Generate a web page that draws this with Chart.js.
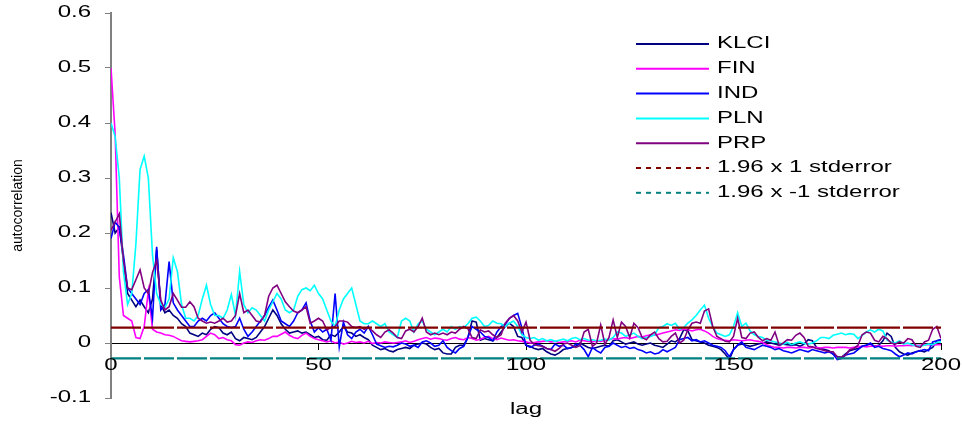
<!DOCTYPE html>
<html>
<head>
<meta charset="utf-8">
<title>Autocorrelation by lag</title>
<script src="https://cdn.jsdelivr.net/npm/chart.js@4.4.1/dist/chart.umd.min.js"></script>
<style>
  html, body { margin: 0; padding: 0; background: #fff; }
  #wrap { width: 962px; height: 427px; position: relative; }
</style>
</head>
<body>
<div id="wrap"><canvas id="acf" width="962" height="427"></canvas></div>
<script>
// lags 0..200 (categories)
const lags = Array.from({ length: 201 }, (_, i) => i);

const klci = [
  0.237, 0.20, 0.21, 0.15, 0.09, 0.078, 0.066, 0.078, 0.066, 0.055,
  0.08, 0.17, 0.07, 0.055, 0.06, 0.05, 0.045, 0.035, 0.03, 0.018,
  0.015, 0.012, 0.018, 0.015, 0.025, 0.03, 0.028, 0.018, 0.015, 0.02,
  0.008, 0.004, 0.01, 0.008, 0.006, 0.01, 0.02, 0.03, 0.045, 0.06,
  0.05, 0.035, 0.025, 0.018, 0.02, 0.022, 0.018, 0.02, 0.015, 0.01,
  0.012, 0.006, 0.005, 0.015, 0.012, 0.02, 0.03, 0.02, 0.018, 0.012,
  0.015, 0.01, 0.006, -0.004, -0.008, -0.012, -0.01, -0.014, -0.016, -0.012,
  -0.01, -0.008, -0.01, -0.004, -0.002, 0.0, -0.002, -0.008, -0.012, -0.01,
  -0.018, -0.02, -0.02, -0.008, -0.004, -0.004, 0.01, 0.04, 0.038, 0.005,
  0.008, 0.006, 0.004, 0.01, 0.02, 0.03, 0.036, 0.03, 0.012, 0.01,
  -0.004, -0.006, -0.01, -0.012, -0.01, -0.016, -0.02, -0.022, -0.018, -0.012,
  -0.01, -0.008, -0.006, 0.0, -0.004, -0.008, -0.01, -0.008, -0.006, -0.004,
  -0.006, 0.004, 0.006, 0.002, -0.002, 0.0, 0.002, -0.002, -0.004, -0.002,
  0.0, -0.004, -0.006, -0.008, -0.002, 0.004, 0.002, 0.008, 0.024, 0.022,
  0.006, 0.004, 0.002, 0.0, -0.004, -0.006, -0.008, -0.012, -0.02, -0.03,
  -0.012, -0.004, -0.002, -0.004, -0.006, -0.004, -0.002, 0.0, 0.002, 0.0,
  -0.002, -0.004, -0.002, -0.003, -0.004, -0.003, -0.006, -0.002, 0.006, 0.004,
  -0.008, -0.01, -0.012, -0.014, -0.02, -0.025, -0.026, -0.02, -0.014, -0.012,
  -0.01, -0.006, -0.004, -0.002, -0.006, -0.004, 0.004, 0.018, 0.012, -0.008,
  -0.016, -0.02, -0.022, -0.018, -0.016, -0.014, -0.016, -0.012, -0.008, 0.004,
  0.006
];

const fin = [
  0.50, 0.38, 0.12, 0.05, 0.045, 0.04, 0.01, 0.008, 0.03, 0.095,
  0.025, 0.02, 0.018, 0.015, 0.014, 0.012, 0.008, 0.004, 0.003, 0.002,
  0.003, 0.004, 0.006, 0.012, 0.018, 0.015, 0.008, 0.01, 0.006, 0.004,
  -0.003, -0.004, 0.0, 0.002, 0.001, 0.004, 0.006, 0.005, 0.008, 0.012,
  0.012, 0.016, 0.02, 0.014, 0.01, 0.008, 0.014, 0.018, 0.012, 0.008,
  0.006, 0.004, 0.002, 0.004, 0.0, 0.002, -0.002, 0.0, 0.003, 0.001,
  0.002, 0.0, 0.003, -0.001, 0.001, 0.0, 0.002, 0.001, 0.0, 0.001,
  0.002, 0.004, 0.001, 0.003, 0.006, 0.008, 0.01, 0.007, 0.009, 0.008,
  0.006, 0.005, 0.008, 0.01, 0.007, 0.006, 0.01, 0.008, 0.005, 0.007,
  0.01, 0.012, 0.008, 0.006, 0.009, 0.007, 0.005, 0.006, 0.004, 0.003,
  0.002, 0.0, 0.001, 0.002, 0.003, 0.004, 0.002, 0.003, 0.001, 0.002,
  0.003, 0.004, 0.002, 0.005, 0.004, 0.003, 0.002, 0.004, 0.003, 0.005,
  0.006, 0.008, 0.007, 0.009, 0.01, 0.008, 0.01, 0.012, 0.011, 0.013,
  0.015, 0.014, 0.016, 0.018, 0.02, 0.022, 0.024, 0.023, 0.025, 0.024,
  0.022, 0.024, 0.025, 0.022, 0.018, 0.012, 0.008, 0.006, 0.005, 0.004,
  0.006, 0.005, 0.004, 0.005, 0.006, 0.004, 0.003, 0.001, -0.003, -0.006,
  -0.008, -0.008, -0.009, -0.008, -0.008, -0.009, -0.008, -0.008, -0.009, -0.008,
  -0.008, -0.009, -0.008, -0.008, -0.009, -0.008, -0.008, -0.008, -0.009, -0.008,
  -0.007, -0.006, -0.007, -0.006, -0.006, -0.005, -0.006, -0.005, -0.005, -0.006,
  -0.005, -0.005, -0.004, -0.005, -0.004, -0.004, -0.003, -0.003, -0.004, -0.003,
  -0.003
];

const ind = [
  0.19, 0.22, 0.21, 0.16, 0.10, 0.09, 0.08, 0.07, 0.09, 0.097,
  0.045, 0.175, 0.06, 0.07, 0.148, 0.073, 0.06, 0.05, 0.04, 0.03,
  0.03, 0.04, 0.045, 0.04, 0.05, 0.055, 0.045, 0.035, 0.03, 0.028,
  0.03, 0.045, 0.025, 0.012, 0.02, 0.03, 0.04, 0.05, 0.065, 0.078,
  0.06, 0.04, 0.035, 0.03, 0.04, 0.055, 0.06, 0.073, 0.04, 0.02,
  0.028, 0.02, 0.025, 0.005, 0.09, -0.007, 0.038, 0.015, 0.008, 0.02,
  0.025, 0.018, 0.03, 0.015, -0.002, -0.005, -0.008, -0.006, -0.007, -0.004,
  0.0, -0.002, -0.006, -0.004, -0.008, 0.002, 0.004, 0.0, -0.006, -0.004,
  0.004, -0.008, -0.014, -0.018, -0.01, -0.006, 0.01, 0.03, 0.025, 0.02,
  0.012, 0.01, 0.004, 0.02, 0.03, 0.034, 0.045, 0.05, 0.054, 0.028,
  -0.004, -0.008, -0.004, -0.002, -0.006, -0.01, -0.012, -0.002, -0.006, -0.004,
  -0.01, -0.008, -0.002, -0.004, -0.012, -0.025, -0.008, -0.014, -0.018, -0.008,
  -0.006, 0.0, -0.004, -0.008, -0.006, -0.01, -0.008, -0.012, -0.014, -0.018,
  -0.016, -0.02, -0.018, -0.012, -0.016, -0.012, -0.008, 0.006, 0.008, 0.01,
  0.004, 0.006, 0.002, 0.004, 0.0, -0.004, -0.006, -0.008, -0.014, -0.025,
  -0.012, -0.004, 0.002, -0.008, -0.01, -0.012, -0.008, -0.004, -0.006, -0.008,
  -0.012, -0.01, -0.014, -0.016, -0.018, -0.015, -0.012, -0.014, -0.016, -0.012,
  -0.014, -0.016, -0.018, -0.016, -0.02, -0.03, -0.028, -0.022, -0.02, -0.018,
  -0.012, -0.006, -0.004, 0.0, -0.008, -0.006, -0.01, -0.012, -0.014, -0.02,
  -0.025, -0.022, -0.018, -0.02, -0.016, -0.014, -0.012, -0.014, 0.002, 0.004,
  0.006
];

const pln = [
  0.40, 0.375, 0.30, 0.13, 0.07, 0.09, 0.18, 0.315, 0.34, 0.30,
  0.16, 0.09, 0.07, 0.065, 0.08, 0.155, 0.13, 0.07, 0.045, 0.045,
  0.04, 0.05, 0.08, 0.105, 0.07, 0.05, 0.05, 0.045, 0.06, 0.088,
  0.05, 0.13, 0.07, 0.055, 0.064, 0.06, 0.05, 0.04, 0.06, 0.075,
  0.09, 0.08, 0.06, 0.055, 0.06, 0.085, 0.097, 0.10, 0.095, 0.105,
  0.09, 0.08, 0.06, 0.04, 0.03, 0.06, 0.08, 0.09, 0.10, 0.07,
  0.04, 0.035, 0.035, 0.04, 0.035, 0.03, 0.035, 0.02, 0.015, 0.01,
  0.04, 0.045, 0.04, 0.02, 0.035, 0.04, 0.025, 0.02, 0.015, 0.02,
  0.025, 0.02, 0.03, 0.025, 0.03, 0.028, 0.035, 0.045, 0.047, 0.04,
  0.03, 0.032, 0.04, 0.036, 0.035, 0.03, 0.036, 0.04, 0.03, 0.015,
  0.01, 0.008, 0.01, 0.005, 0.008, 0.004, 0.006, 0.003, 0.005, 0.007,
  0.004, 0.008, 0.01, 0.006, 0.008, 0.005, 0.006, 0.004, 0.005, 0.007,
  0.005, 0.01, 0.02, 0.018, 0.012, 0.015, 0.018, 0.012, 0.008, 0.01,
  0.012, 0.015, 0.028, 0.03, 0.035, 0.032, 0.036, 0.025, 0.028, 0.036,
  0.042, 0.05, 0.06, 0.069, 0.045, 0.03, 0.018, 0.015, 0.012, 0.015,
  0.03, 0.055, 0.03, 0.036, 0.022, 0.015, 0.012, 0.01, 0.005, 0.004,
  0.002, 0.0, -0.002, 0.001, -0.003, 0.0, 0.002, -0.001, -0.002, 0.0,
  0.004, 0.01, 0.01, 0.008, 0.014, 0.016, 0.018, 0.015, 0.017, 0.016,
  0.008, 0.014, 0.02, 0.024, 0.02, 0.025, 0.022, 0.005, 0.002, 0.0,
  0.004, -0.002, 0.0, -0.003, -0.005, -0.006, -0.004, -0.002, -0.003, 0.001,
  0.002
];

const prp = [
  0.205, 0.22, 0.235, 0.15, 0.10, 0.097, 0.115, 0.133, 0.10, 0.09,
  0.128, 0.15, 0.078, 0.06, 0.066, 0.09, 0.078, 0.065, 0.065, 0.075,
  0.066, 0.045, 0.04, 0.036, 0.038, 0.036, 0.04, 0.045, 0.038, 0.04,
  0.05, 0.09, 0.055, 0.06, 0.05, 0.04, 0.038, 0.05, 0.085, 0.10,
  0.105, 0.09, 0.075, 0.066, 0.058, 0.055, 0.06, 0.066, 0.036, 0.04,
  0.045, 0.04, 0.024, 0.028, 0.03, 0.04, 0.04, 0.038, 0.03, 0.028,
  0.03, 0.025, 0.028, 0.022, 0.015, 0.01, 0.02, 0.024, 0.018, 0.01,
  0.008, 0.022, 0.025, 0.02, 0.03, 0.045, 0.02, 0.015, 0.018, 0.015,
  0.018, 0.015, 0.02, 0.018, 0.025, 0.03, 0.026, 0.01, 0.008, 0.024,
  0.02, 0.022, 0.015, 0.01, 0.015, 0.036, 0.045, 0.05, 0.04, 0.02,
  0.038, 0.005, -0.003, -0.005, -0.006, -0.01, -0.012, -0.015, -0.01, -0.002,
  0.0, -0.004, -0.008, -0.005, 0.02, 0.025, -0.006, 0.0, 0.033, -0.002,
  0.01, 0.042, 0.01, 0.038, 0.03, 0.01, 0.036, 0.028, 0.01, 0.006,
  0.015, 0.02, 0.008, 0.002, 0.003, 0.012, 0.018, 0.0, 0.005, 0.024,
  0.036, 0.038, 0.036, 0.058, 0.062, 0.03, 0.012, 0.008, 0.003, 0.002,
  0.012, 0.045, 0.01, 0.008, 0.018, 0.02, 0.01, 0.004, 0.008, 0.005,
  0.02, -0.004, 0.0, 0.006, 0.005, 0.014, 0.018, 0.01, -0.006, -0.007,
  -0.01, -0.012, -0.014, -0.016, -0.016, -0.025, -0.026, -0.022, -0.012, -0.01,
  -0.004, 0.015, 0.02, 0.018, 0.005, 0.002, 0.012, 0.008, 0.0, -0.002,
  0.002, 0.0, 0.008, 0.006, -0.006, -0.008, 0.002, 0.005, 0.025, 0.03,
  0.008
];

// +/- 1.96 x standard error bands
const bandLags = [0, 200];
const upperBand = [0.028, 0.028];
const lowerBand = [-0.028, -0.028];

const yTicks = [-0.1, 0, 0.1, 0.2, 0.3, 0.4, 0.5, 0.6];
const xTicks = [0, 50, 100, 150, 200];

const FONT = '16px "Liberation Sans", Arial, sans-serif';
const STRETCH = 1.5; // the source text is wide
const BAND_DASH = [30, 3];

function pts(xs, ys) {
  return ys.map((v, i) => ({ x: xs[i], y: v }));
}

function series(label, values, color, order) {
  return {
    label: label,
    data: pts(lags, values),
    borderColor: color,
    borderWidth: 1.6,
    pointRadius: 0,
    tension: 0,
    fill: false,
    order: order
  };
}

function band(label, values, color, order) {
  return {
    label: label,
    data: pts(bandLags, values),
    borderColor: color,
    borderWidth: 2.2,
    borderDash: BAND_DASH,
    segment: { borderDash: () => BAND_DASH },
    pointRadius: 0,
    fill: false,
    order: order,
    isBand: true
  };
}

function wideText(ctx, text, x, y, align) {
  ctx.save();
  ctx.translate(x, y);
  ctx.scale(STRETCH, 1);
  ctx.textAlign = align;
  ctx.fillText(text, 0, 0);
  ctx.restore();
}

const textAndLegend = {
  id: 'textAndLegend',
  afterDraw(chart) {
    const ctx = chart.ctx;
    const xs = chart.scales.x;
    const ys = chart.scales.y;
    ctx.save();
    ctx.fillStyle = '#000';
    ctx.font = FONT;
    ctx.textBaseline = 'middle';

    yTicks.forEach(v => {
      const txt = v === 0 ? '0' : v.toFixed(1);
      wideText(ctx, txt, 91, ys.getPixelForValue(v), 'right');
    });
    xTicks.forEach(v => {
      wideText(ctx, String(v), xs.getPixelForValue(v), 366, 'center');
    });
    wideText(ctx, 'lag', (xs.left + xs.right) / 2, 410, 'center');

    // y title
    ctx.save();
    ctx.translate(18, (ys.top + ys.bottom) / 2);
    ctx.rotate(-Math.PI / 2);
    ctx.font = '14px "Liberation Sans", Arial, sans-serif';
    ctx.textAlign = 'center';
    ctx.fillText('autocorrelation', 0, 0);
    ctx.restore();

    // legend
    chart.data.datasets.forEach((ds, i) => {
      const ly = 44 + i * 24.8;
      ctx.save();
      ctx.strokeStyle = ds.borderColor;
      ctx.lineWidth = 2;
      ctx.setLineDash(ds.isBand ? [5, 5] : []);
      ctx.beginPath();
      ctx.moveTo(636, ly);
      ctx.lineTo(709, ly);
      ctx.stroke();
      ctx.setLineDash([]);
      ctx.restore();
      wideText(ctx, ds.label, 717, ly, 'left');
    });
    ctx.restore();
  }
};

new Chart(document.getElementById('acf'), {
  type: 'line',
  data: {
    datasets: [
      series('KLCI', klci, '#000080', 7),
      series('FIN', fin, '#FF00FF', 6),
      series('IND', ind, '#0000FF', 5),
      series('PLN', pln, '#00FFFF', 4),
      series('PRP', prp, '#800080', 3),
      band('1.96 x 1 stderror', upperBand, '#800000', 2),
      band('1.96 x -1 stderror', lowerBand, '#008080', 1)
    ]
  },
  options: {
    responsive: false,
    animation: false,
    layout: { padding: { top: 13, bottom: 29, right: 21, left: 0 } },
    plugins: {
      legend: { display: false },
      tooltip: { enabled: false }
    },
    scales: {
      x: {
        type: 'linear',
        min: 0,
        max: 200,
        position: { y: 0 },
        ticks: { display: false, stepSize: 50 },
        grid: {
          drawOnChartArea: false,
          drawTicks: true,
          tickLength: 6,
          color: '#000'
        },
        border: { color: '#000', width: 1 }
      },
      y: {
        min: -0.1,
        max: 0.6,
        ticks: { display: false, stepSize: 0.1 },
        grid: {
          drawOnChartArea: false,
          drawTicks: true,
          tickLength: 6,
          color: '#808080'
        },
        border: { color: '#808080', width: 2 },
        afterFit: (scale) => { scale.width = 111; }
      }
    }
  },
  plugins: [textAndLegend]
});
</script>
</body>
</html>
